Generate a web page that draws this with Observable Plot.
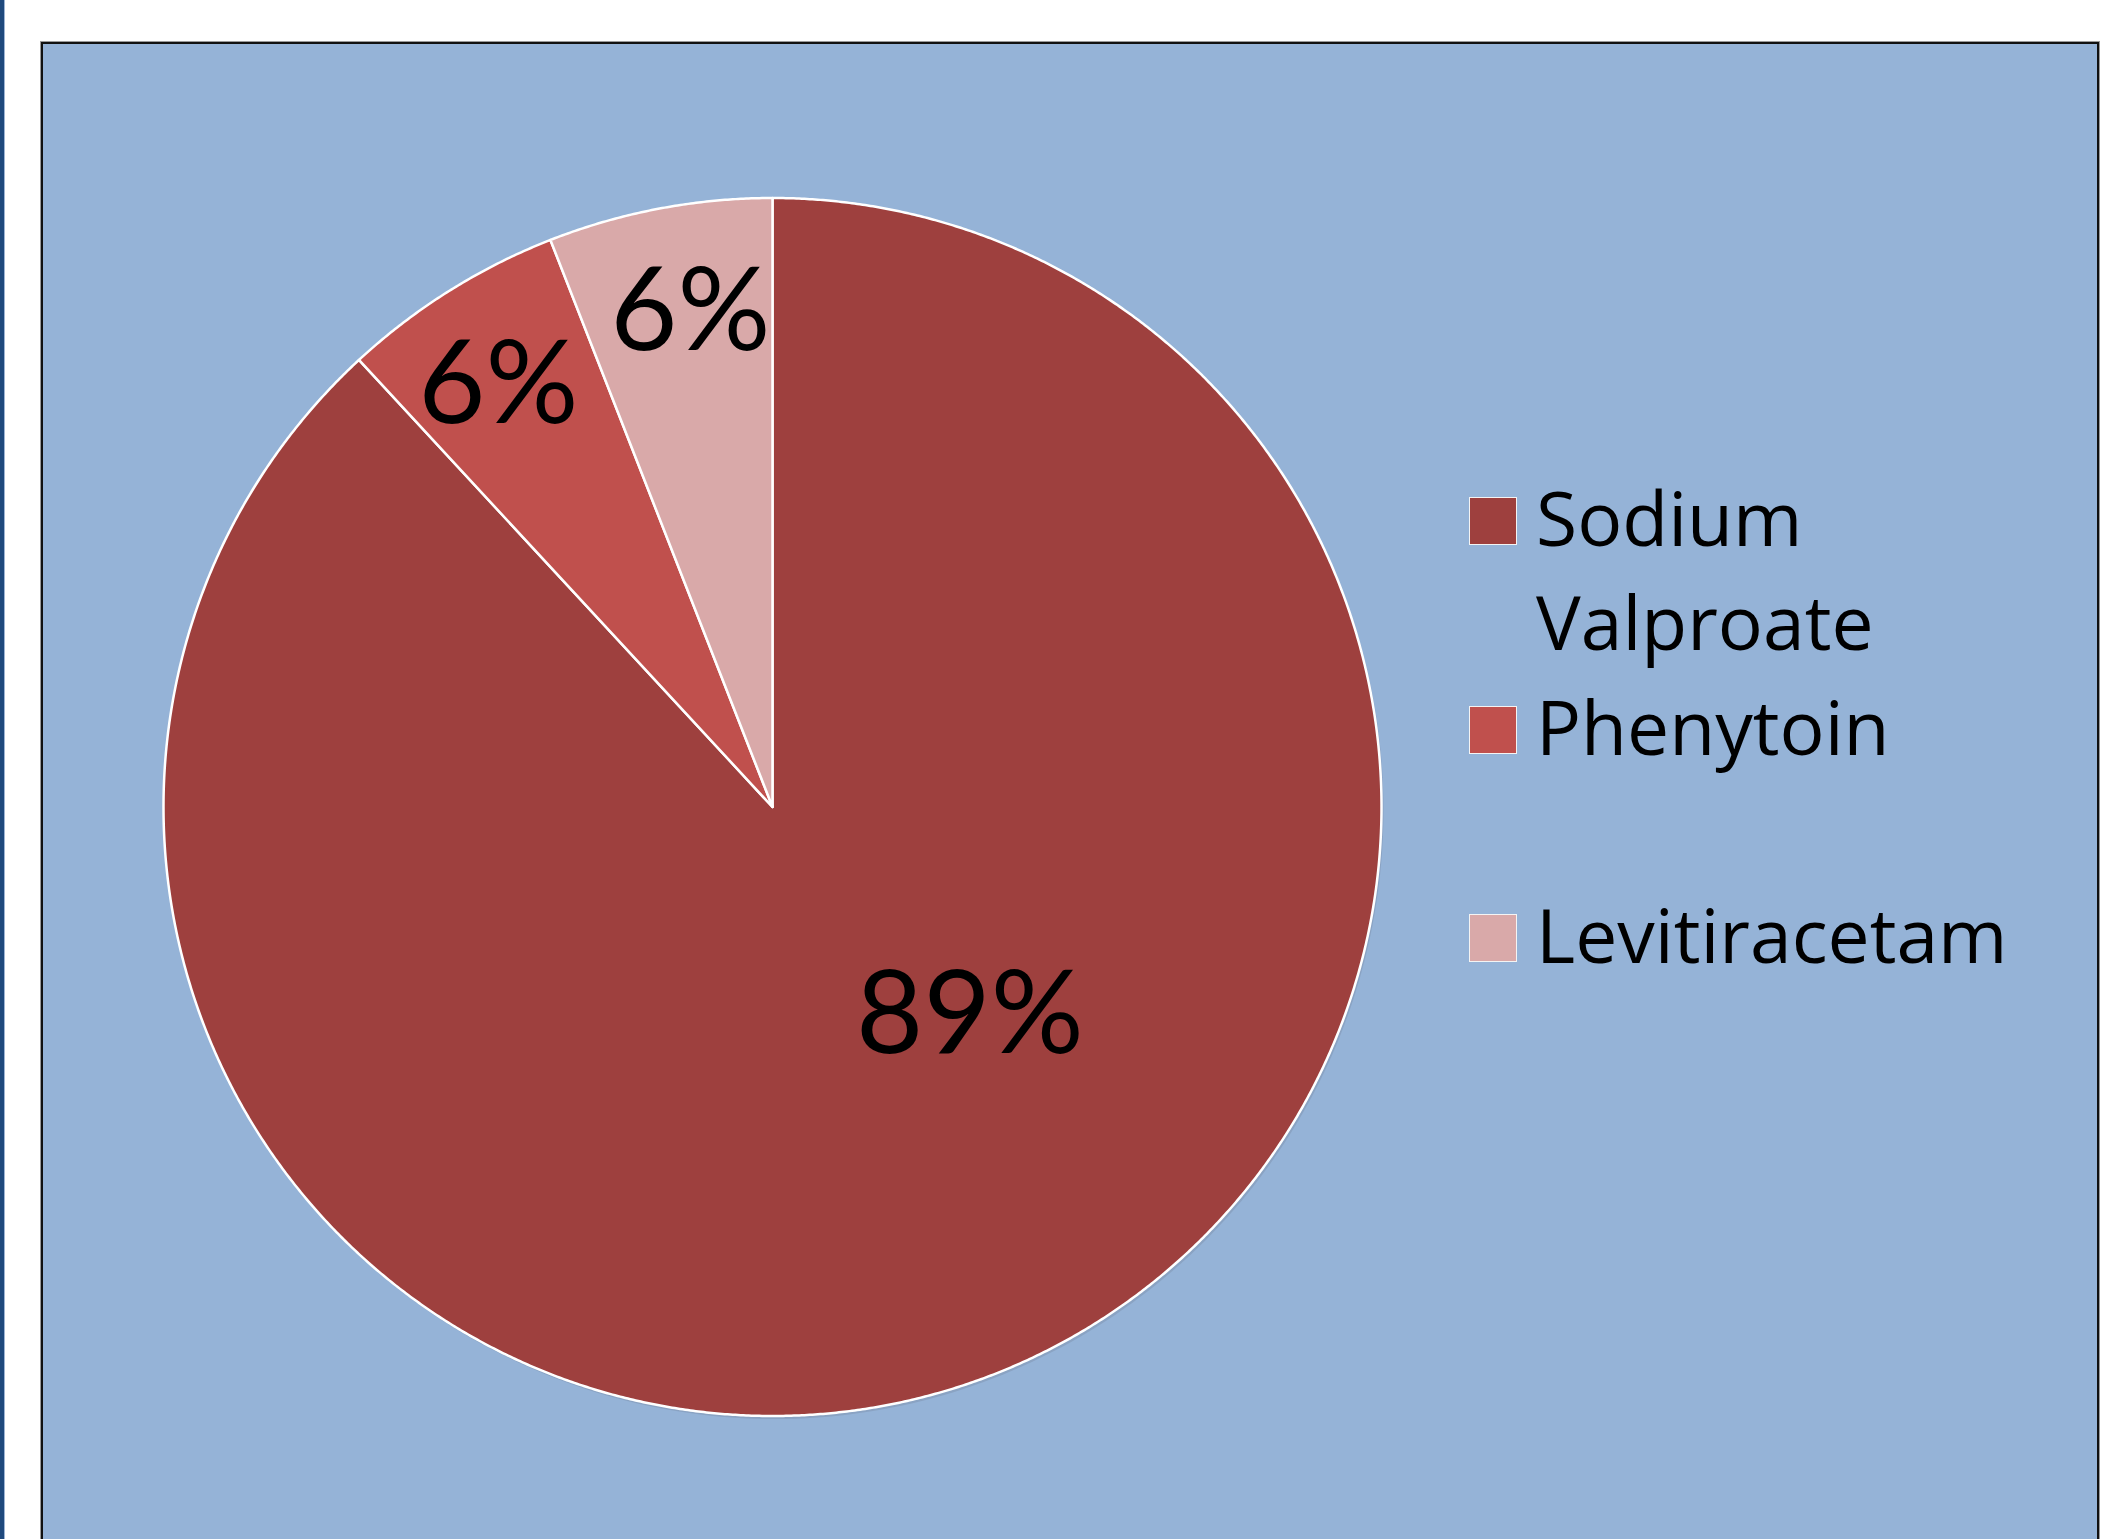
<!DOCTYPE html>
<html>
<head>
<meta charset="utf-8">
<script src="https://cdn.jsdelivr.net/npm/d3@7"></script>
<script src="https://cdn.jsdelivr.net/npm/@observablehq/plot@0.6"></script>
<style>
  html, body { margin: 0; padding: 0; background: #ffffff; }
  #wrap { position: relative; width: 2106px; height: 1539px; overflow: hidden; background: #ffffff; }
  #sidebar { position: absolute; left: 0; top: 0; width: 4px; height: 100%; background: #1F497D; border-right: 1px solid #9db4d4; }
  #area { position: absolute; left: 41px; top: 42px; width: 2058px; height: 1600px; background: #95B3D7;
          border: 2px solid #111; box-sizing: border-box; box-shadow: 0 0 0 1px #9a9a9a; }
  #chart { position: absolute; left: 0; top: 0; }
  #chart svg { background: transparent; overflow: visible; }
  .leg { position: absolute; left: 1469px; font-family: "Open Sans", Lato, sans-serif; font-size: 75px; line-height: 104px; color: #000; }
  .leg .sw { position: absolute; left: 0; width: 46px; height: 46px; border: 1px solid #f4f4f4; }
  .leg .tx { position: absolute; left: 67px; top: 0; white-space: nowrap; }
</style>
</head>
<body>
<div id="wrap">
  <div id="sidebar"></div>
  <div id="area"></div>
  <div id="chart"></div>
  <div id="legend"></div>
</div>
<script>
// ---- data ----
const categories = ["Sodium Valproate", "Phenytoin", "Levitiracetam"];
const legendLines = [["Sodium", "Valproate"], ["Phenytoin"], ["Levitiracetam"]];
const values = [89, 6, 6];
const labels = ["89%", "6%", "6%"];
const colors = ["#9E403E", "#C0504D", "#D9A9A9"];

// ---- layout options (not data) ----
const labelT = [0.43, 0.46, 0.56];   // position of label along slice arc (fraction)
const labelR = [0.47, 0.828, 0.825]; // label radius fraction

const arcs = d3.pie().sort(null).value(d => d)(values);

const polys = [];
arcs.forEach((a, i) => {
  polys.push({x: 0, y: 0, k: i});
  const n = Math.max(8, Math.ceil((a.endAngle - a.startAngle) / (Math.PI / 720)));
  for (let j = 0; j <= n; j++) {
    const t = a.startAngle + (a.endAngle - a.startAngle) * j / n;
    polys.push({x: Math.sin(t), y: Math.cos(t), k: i});
  }
});

const labelPts = arcs.map((a, i) => {
  const t = a.startAngle + labelT[i] * (a.endAngle - a.startAngle);
  return {x: labelR[i] * Math.sin(t), y: labelR[i] * Math.cos(t), text: labels[i]};
});

// soft shadow ring behind the pie
const shadow = d3.range(0, 361, 1).map(d => ({x: Math.sin(d * Math.PI / 180), y: Math.cos(d * Math.PI / 180)}));

const W = 2106, H = 1539;
const cx = 772, cy = 806.5, R = 609;

const plot = Plot.plot({
  width: W,
  height: H,
  marginLeft: cx - R,
  marginRight: W - (cx + R),
  marginTop: cy - R,
  marginBottom: H - (cy + R),
  x: {domain: [-1, 1], axis: null},
  y: {domain: [-1, 1], axis: null},
  color: {type: "identity"},
  style: {background: "transparent"},
  marks: [
    Plot.line(shadow, {x: "x", y: "y", curve: "linear-closed", fill: "#6f7f95", fillOpacity: 0.3, dx: 2, dy: 3}),
    Plot.line(polys, {x: "x", y: "y", z: "k", fill: d => colors[d.k], stroke: "#ffffff", strokeWidth: 2.5,
                      strokeLinejoin: "round", curve: "linear-closed"}),
    Plot.text(labelPts, {x: "x", y: "y", text: "text", fontSize: 116, fontFamily: "Lato, 'Open Sans', sans-serif",
                         fill: "#000", lineAnchor: "middle", dy: 2})
  ]
});
document.getElementById("chart").appendChild(plot);

// ---- legend ----
const legendBaselines = [546, 755, 963];
const baseOffset = 81; // baseline offset inside first line box
const legend = document.getElementById("legend");
legendLines.forEach((lines, i) => {
  const base = legendBaselines[i];
  const item = document.createElement("div");
  item.className = "leg";
  item.style.top = (base - baseOffset) + "px";
  const sw = document.createElement("div");
  sw.className = "sw";
  sw.style.background = colors[i];
  sw.style.top = (baseOffset - 49) + "px";
  item.appendChild(sw);
  const tx = document.createElement("div");
  tx.className = "tx";
  tx.innerHTML = lines.join("<br>");
  item.appendChild(tx);
  legend.appendChild(item);
});
</script>
</body>
</html>
